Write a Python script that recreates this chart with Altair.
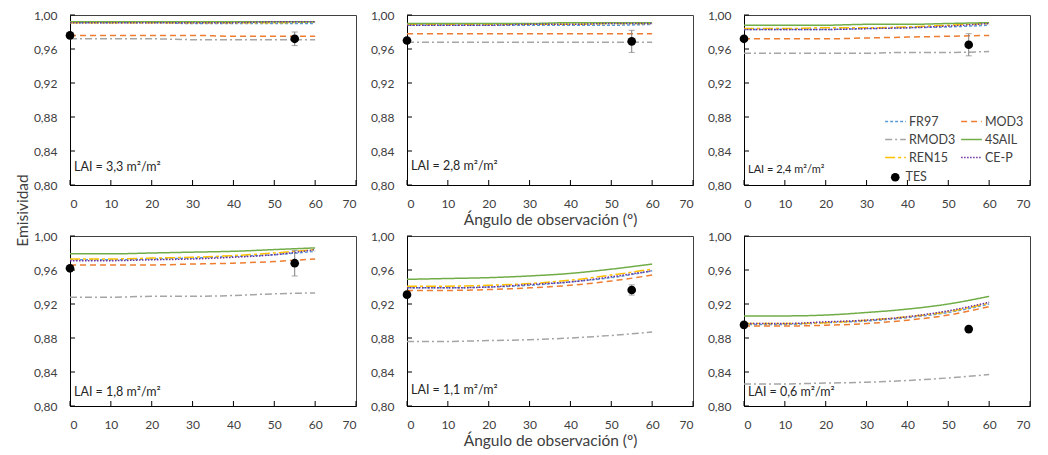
import altair as alt
import pandas as pd

# Observation angles (degrees) at which each model curve is sampled
angles = [0, 10, 20, 30, 40, 50, 60]

# One entry per panel, in reading order
lai_labels = ["LAI = 3,3 m²/m²", "LAI = 2,8 m²/m²", "LAI = 2,4 m²/m²",
              "LAI = 1,8 m²/m²", "LAI = 1,1 m²/m²", "LAI = 0,6 m²/m²"]
lai_font = [12.5, 12.5, 11, 12.5, 12.5, 12.5]
lai_y = [152, 151, 155, 156, 154, 156]

# Listed column by column, as the two-column legend fills top to bottom
models = ["FR97", "RMOD3", "REN15", "MOD3", "4SAIL", "CE-P"]
model_colors = ["#5B9BD5", "#A5A5A5", "#FFC000", "#ED7D31", "#70AD47", "#7030A0"]
model_dashes = [[3, 2], [7, 3, 2, 3], [10, 3, 3, 3], [6, 4], [1, 0], [1.5, 1.5]]

# Emissivity per model, per panel, at each angle
fr97 = [
    [0.991, 0.991, 0.991, 0.990, 0.990, 0.990, 0.990],
    [0.988, 0.988, 0.988, 0.988, 0.988, 0.988, 0.989],
    [0.983, 0.983, 0.983, 0.984, 0.985, 0.986, 0.988],
    [0.972, 0.972, 0.973, 0.974, 0.976, 0.978, 0.982],
    [0.939, 0.939, 0.940, 0.942, 0.946, 0.951, 0.959],
    [0.896, 0.896, 0.898, 0.900, 0.904, 0.910, 0.920],
]
mod3 = [
    [0.976, 0.976, 0.976, 0.976, 0.975, 0.975, 0.975],
    [0.978, 0.978, 0.978, 0.978, 0.978, 0.978, 0.978],
    [0.972, 0.972, 0.972, 0.973, 0.974, 0.975, 0.976],
    [0.966, 0.966, 0.966, 0.967, 0.968, 0.970, 0.973],
    [0.936, 0.936, 0.937, 0.939, 0.942, 0.947, 0.954],
    [0.894, 0.894, 0.895, 0.897, 0.901, 0.907, 0.917],
]
rmod3 = [
    [0.972, 0.972, 0.972, 0.971, 0.971, 0.971, 0.971],
    [0.968, 0.968, 0.968, 0.968, 0.968, 0.968, 0.968],
    [0.955, 0.955, 0.955, 0.955, 0.956, 0.956, 0.957],
    [0.928, 0.928, 0.929, 0.929, 0.930, 0.932, 0.933],
    [0.876, 0.876, 0.877, 0.878, 0.880, 0.883, 0.887],
    [0.826, 0.826, 0.827, 0.828, 0.830, 0.833, 0.837],
]
sail4 = [
    [0.992, 0.992, 0.992, 0.992, 0.992, 0.992, 0.992],
    [0.990, 0.990, 0.990, 0.990, 0.991, 0.991, 0.991],
    [0.988, 0.988, 0.988, 0.989, 0.989, 0.990, 0.991],
    [0.979, 0.979, 0.980, 0.981, 0.982, 0.984, 0.986],
    [0.949, 0.950, 0.951, 0.953, 0.956, 0.961, 0.967],
    [0.906, 0.906, 0.907, 0.910, 0.914, 0.920, 0.929],
]
ren15 = [
    [0.991, 0.991, 0.991, 0.991, 0.991, 0.991, 0.992],
    [0.989, 0.989, 0.989, 0.989, 0.989, 0.990, 0.990],
    [0.984, 0.984, 0.985, 0.985, 0.986, 0.988, 0.990],
    [0.973, 0.973, 0.974, 0.975, 0.977, 0.980, 0.984],
    [0.941, 0.941, 0.942, 0.944, 0.948, 0.954, 0.961],
    [0.897, 0.897, 0.898, 0.901, 0.905, 0.911, 0.921],
]
cep = [
    [0.991, 0.991, 0.991, 0.991, 0.991, 0.992, 0.992],
    [0.988, 0.988, 0.988, 0.989, 0.989, 0.990, 0.990],
    [0.983, 0.983, 0.983, 0.984, 0.985, 0.987, 0.990],
    [0.971, 0.971, 0.972, 0.973, 0.975, 0.978, 0.984],
    [0.939, 0.939, 0.940, 0.943, 0.946, 0.952, 0.959],
    [0.897, 0.897, 0.899, 0.901, 0.905, 0.912, 0.922],
]
model_series = [fr97, rmod3, ren15, mod3, sail4, cep]

# TES retrievals (points) with their uncertainty
tes_angles = [0, 55]
tes_values = [[0.976, 0.972], [0.970, 0.969], [0.972, 0.965],
              [0.962, 0.968], [0.931, 0.9365], [0.8955, 0.8905]]
tes_errors = [[None, 0.008], [None, 0.013], [None, 0.013],
              [None, 0.015], [None, 0.006], [None, None]]

x_ticks = [0, 10, 20, 30, 40, 50, 60, 70]
y_ticks = [0.80, 0.84, 0.88, 0.92, 0.96, 1.00]

W, H = 286, 170
FONT = "Lato"
TEXT_COLOR = "#404040"

line_rows = []
for name, series in zip(models, model_series):
    for p, vals in enumerate(series):
        for a, v in zip(angles, vals):
            line_rows.append({"panel": p, "model": name, "angle": a, "value": v})
lines_df = pd.DataFrame(line_rows)

tes_rows = []
for p in range(6):
    for a, v, e in zip(tes_angles, tes_values[p], tes_errors[p]):
        tes_rows.append({"panel": p, "serie": "TES", "angle": a, "value": v,
                         "lo": v - e if e else None, "hi": v + e if e else None})
tes_df = pd.DataFrame(tes_rows)

legend_common = dict(orient="none", title=None, padding=0, labelFontSize=12.5,
                     labelFont=FONT, labelColor=TEXT_COLOR, labelAlign="left")
model_legend = alt.Legend(legendX=814, legendY=95, columns=2, gridAlign="all",
                          symbolType="stroke", symbolSize=430, symbolStrokeWidth=1.5,
                          labelOffset=2, columnPadding=2, rowPadding=0, **legend_common)


def x_enc(field, title):
    return alt.X(f"{field}:Q", scale=alt.Scale(domain=[0, 70], nice=False),
                 axis=alt.Axis(values=x_ticks, title=title, labelPadding=13,
                               titlePadding=3))


def y_enc(field, title):
    axis_kwargs = dict(values=y_ticks, title=title, labelPadding=13,
                       labelExpr="replace(format(datum.value, '.2f'), '.', ',')")
    if title:
        axis_kwargs.update(titleX=-48, titleY=195, titleBaseline="middle",
                           titleAngle=270)
    return alt.Y(f"{field}:Q", scale=alt.Scale(domain=[0.8, 1.0], nice=False, zero=False),
                 axis=alt.Axis(**axis_kwargs))


def panel(p):
    x_title = "Ángulo de observación (º)" if p in (1, 4) else None
    y_title = "Emisividad" if p == 0 else None
    X = lambda f: x_enc(f, x_title)
    Y = lambda f: y_enc(f, y_title)

    lines = alt.Chart(lines_df[lines_df.panel == p]).mark_line(
        strokeWidth=1.5, interpolate="monotone"
    ).encode(
        x=X("angle"),
        y=Y("value"),
        color=alt.Color("model:N", scale=alt.Scale(domain=models, range=model_colors),
                        legend=model_legend),
        strokeDash=alt.StrokeDash("model:N",
                                  scale=alt.Scale(domain=models, range=model_dashes),
                                  legend=model_legend),
    )

    tes = tes_df[tes_df.panel == p]
    err = tes.dropna(subset=["lo"])
    layers = [lines]
    if len(err):
        layers.append(alt.Chart(err).mark_rule(color="#7F7F7F", strokeWidth=1).encode(
            x=X("angle"), y=Y("lo"), y2="hi:Q"))
        layers.append(alt.Chart(err).mark_tick(color="#7F7F7F", orient="horizontal",
                                               size=6, thickness=1).encode(
            x=X("angle"), y=Y("lo")))
        layers.append(alt.Chart(err).mark_tick(color="#7F7F7F", orient="horizontal",
                                               size=6, thickness=1).encode(
            x=X("angle"), y=Y("hi")))

    points = alt.Chart(tes).mark_point(filled=True, size=75, color="black", opacity=1).encode(
        x=X("angle"),
        y=Y("value"),
        shape=alt.Shape("serie:N", scale=alt.Scale(domain=["TES"], range=["circle"]),
                        legend=alt.Legend(legendX=819, legendY=156, symbolSize=75,
                                          symbolFillColor="black", symbolStrokeColor="black",
                                          labelOffset=4, **legend_common)),
    )
    layers.append(points)

    label = alt.Chart(pd.DataFrame({"t": [lai_labels[p]]})).mark_text(
        align="left", baseline="middle", font=FONT, fontSize=lai_font[p], color="#262626"
    ).encode(x=alt.value(4), y=alt.value(lai_y[p]), text="t:N")
    layers.append(label)

    # inward tick marks along both axes
    xt = alt.Chart(pd.DataFrame({"t": x_ticks})).mark_rule(color="black").encode(
        x=X("t"), y=alt.value(H - 5), y2=alt.value(H))
    yt = alt.Chart(pd.DataFrame({"t": y_ticks})).mark_rule(color="black").encode(
        y=Y("t"), x=alt.value(0), x2=alt.value(5))
    layers += [xt, yt]

    return alt.layer(*layers).properties(width=W, height=H)


chart = alt.concat(*[panel(p) for p in range(6)], columns=3, spacing=51,
                   bounds="flush").resolve_scale(
    color="shared", strokeDash="shared", shape="shared"
).properties(
    padding={"left": 14, "top": 8, "right": 5, "bottom": 5}
).configure_view(
    stroke="#404040", strokeWidth=1
).configure_axis(
    grid=False, ticks=False, tickSize=0, domainColor="black", domainWidth=1,
    labelFont=FONT, labelFontSize=12, labelColor=TEXT_COLOR,
    titleFont=FONT, titleFontSize=15.5, titleFontWeight="normal", titleColor=TEXT_COLOR
).configure_text(font=FONT)

chart.save("out.html", embed_options={"renderer": "svg", "actions": False})
